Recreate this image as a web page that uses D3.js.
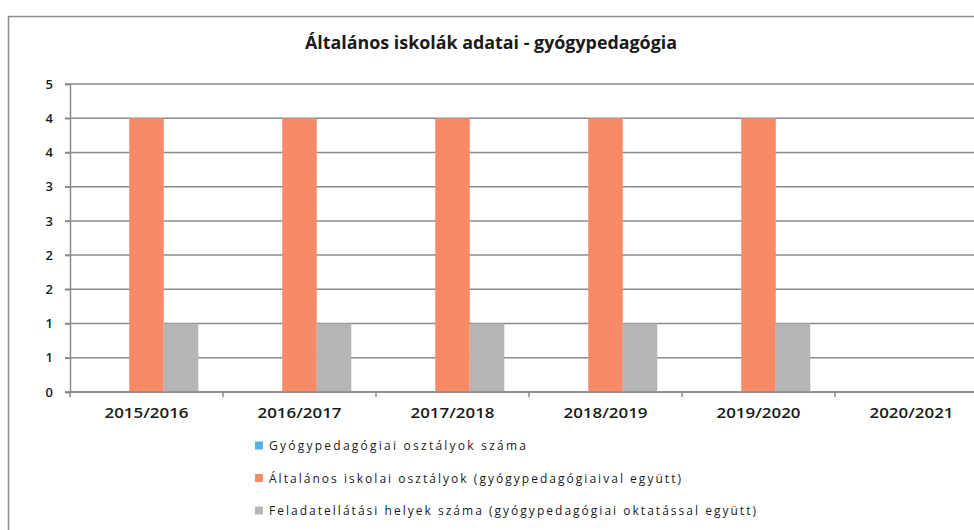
<!DOCTYPE html>
<html>
<head>
<meta charset="utf-8">
<script src="https://cdn.jsdelivr.net/npm/d3@7"></script>
<style>
  html, body { margin: 0; padding: 0; background: #fff; }
  svg { display: block; }
  text { font-family: "Open Sans", "DejaVu Sans", sans-serif; fill: #1a1a1a; }
</style>
</head>
<body>
<svg id="chart" width="974" height="530"></svg>
<script>
const title = "Általános iskolák adatai - gyógypedagógia";
const categories = ["2015/2016", "2016/2017", "2017/2018", "2018/2019", "2019/2020", "2020/2021"];
const seriesNames = [
  "Gyógypedagógiai osztályok száma",
  "Általános iskolai osztályok (gyógypedagógiaival együtt)",
  "Feladatellátási helyek száma (gyógypedagógiai oktatással együtt)"
];
const gyogyOsztalyok = [0, 0, 0, 0, 0, null];
const altalanosOsztalyok = [4, 4, 4, 4, 4, null];
const feladatellatasiHelyek = [1, 1, 1, 1, 1, null];
const seriesColors = ["#56AEE6", "#F98A68", "#B5B5B5"];
const yTickValues = [0, 0.5, 1, 1.5, 2, 2.5, 3, 3.5, 4, 4.5];
const yTickLabels = ["0", "1", "1", "2", "2", "3", "3", "4", "4", "5"];

(function () {
const series = [gyogyOsztalyok, altalanosOsztalyok, feladatellatasiHelyek];

const svg = d3.select("#chart");

// chart frame (extends beyond the right/bottom edge as in the scan)
svg.append("path")
  .attr("d", "M8.5,540 L8.5,16.5 L990,16.5")
  .attr("fill", "none")
  .attr("stroke", "#8c8c8c")
  .attr("stroke-width", 1.5);

// title
svg.append("text")
  .attr("x", 491).attr("y", 49)
  .attr("text-anchor", "middle")
  .attr("font-family", "'Liberation Sans', Arial, sans-serif")
  .attr("font-weight", "bold")
  .attr("font-size", 17)
  .attr("textLength", 372)
  .attr("lengthAdjust", "spacingAndGlyphs")
  .text(title);

const pLeft = 70, pRight = 988, pTop = 84, pBottom = 392;

const x0 = d3.scaleBand().domain(categories).range([pLeft, pRight]).paddingInner(0.323).paddingOuter(0.1615);
const x1 = d3.scaleBand().domain(d3.range(series.length)).range([0, x0.bandwidth()]);
const y = d3.scaleLinear().domain([0, 4.5]).range([pBottom, pTop]);

// gridlines
svg.append("g")
  .selectAll("line")
  .data(yTickValues)
  .join("line")
  .attr("x1", pLeft - 5).attr("x2", pRight)
  .attr("y1", d => y(d)).attr("y2", d => y(d))
  .attr("stroke", "#8a8a8a")
  .attr("stroke-width", 1.5);

// y axis
const yAxis = d3.axisLeft(y)
  .tickValues(yTickValues)
  .tickFormat((d, i) => yTickLabels[i])
  .tickSize(5)
  .tickPadding(12);
const gy = svg.append("g").attr("transform", `translate(${pLeft},0)`).call(yAxis);
gy.select(".domain").attr("stroke", "#8a8a8a").attr("stroke-width", 1.5);
gy.selectAll(".tick line").attr("stroke", "#8a8a8a").attr("stroke-width", 1.5);
gy.selectAll(".tick text")
  .attr("font-family", "'Open Sans', sans-serif")
  .attr("font-size", 13)
  .attr("font-weight", 600)
  .attr("fill", "#1a1a1a");

// bars
const groups = svg.append("g")
  .selectAll("g")
  .data(categories)
  .join("g")
  .attr("transform", d => `translate(${x0(d)},0)`);

groups.selectAll("rect")
  .data((c, ci) => series.map((s, si) => ({ si, v: s[ci] })).filter(d => d.v !== null && d.v > 0))
  .join("rect")
  .attr("x", d => x1(d.si))
  .attr("width", x1.bandwidth())
  .attr("y", d => y(d.v))
  .attr("height", d => y(0) - y(d.v))
  .attr("fill", d => seriesColors[d.si]);

// x axis baseline with ticks at category boundaries
const step = x0.step();
const boundaries = d3.range(categories.length + 1).map(i => pLeft + i * step);
svg.append("line")
  .attr("x1", pLeft).attr("x2", pRight)
  .attr("y1", pBottom).attr("y2", pBottom)
  .attr("stroke", "#8a8a8a").attr("stroke-width", 1.5);
svg.append("g")
  .selectAll("line")
  .data(boundaries)
  .join("line")
  .attr("x1", d => d).attr("x2", d => d)
  .attr("y1", pBottom).attr("y2", pBottom + 5)
  .attr("stroke", "#8a8a8a").attr("stroke-width", 1.5);

// category labels
svg.append("g")
  .selectAll("text")
  .data(categories)
  .join("text")
  .attr("x", d => x0(d) + x0.bandwidth() / 2)
  .attr("y", 418)
  .attr("text-anchor", "middle")
  .attr("font-size", 14)
  .attr("font-weight", 600)
  .attr("textLength", 84)
  .attr("lengthAdjust", "spacingAndGlyphs")
  .text(d => d);

// legend
const legendWidths = [257, 412, 487];
const legend = svg.append("g")
  .selectAll("g")
  .data(seriesNames)
  .join("g")
  .attr("transform", (d, i) => `translate(255,${445.5 + i * 32.5})`);
legend.append("rect")
  .attr("x", 0).attr("y", -4)
  .attr("width", 8).attr("height", 8)
  .attr("fill", (d, i) => seriesColors[i]);
legend.append("text")
  .attr("x", 14).attr("y", 4.5)
  .attr("font-size", 12)
  .attr("textLength", (d, i) => legendWidths[i])
  .attr("lengthAdjust", "spacing")
  .text(d => d);
})();
</script>
</body>
</html>
